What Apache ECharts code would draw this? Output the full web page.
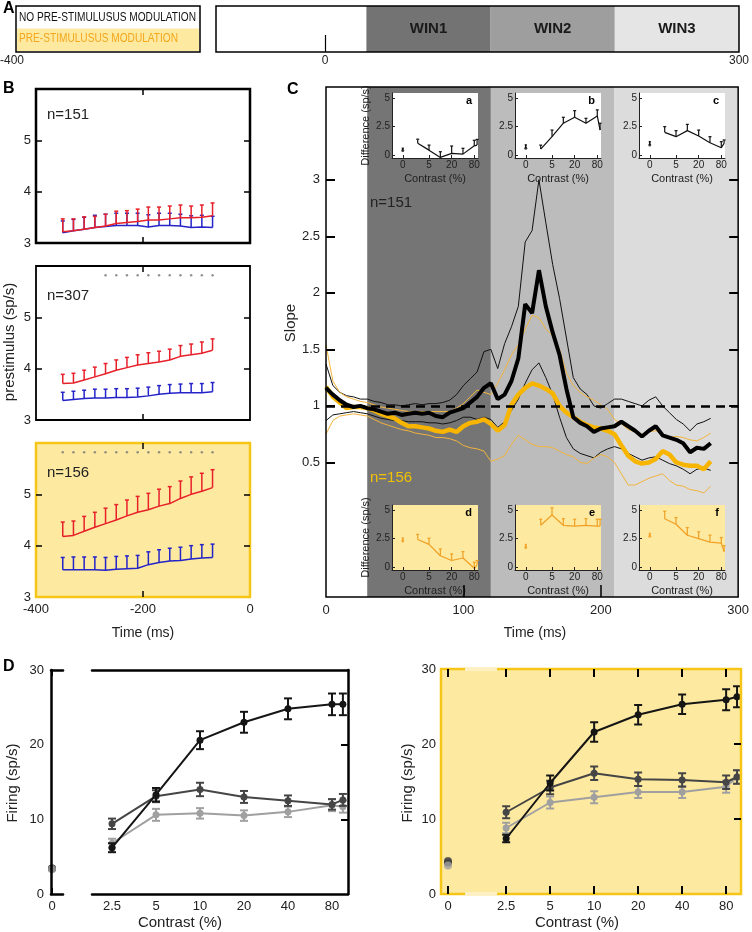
<!DOCTYPE html>
<html>
<head>
<meta charset="utf-8">
<script src="https://cdn.jsdelivr.net/npm/echarts@6/dist/echarts.min.js"></script>
<style>
html, body { margin: 0; padding: 0; background: #fff; }
#chart { width: 752px; height: 932px; }
</style>
</head>
<body>
<div id="chart"></div>
<script>
// ---------- data ----------
const windows = [30, 120, 210, 300];
const winNames = ['WIN1', 'WIN2', 'WIN3'];

// panel B: prestimulus activity
const bTime = [-350, -330, -310, -290, -270, -250, -230, -210, -190, -170, -150, -130, -110, -90, -70];
const b151Red = [3.22, 3.24, 3.27, 3.30, 3.33, 3.38, 3.40, 3.42, 3.45, 3.45, 3.47, 3.49, 3.49, 3.50, 3.53];
const b151RedErr = [0.25, 0.23, 0.24, 0.22, 0.23, 0.24, 0.23, 0.24, 0.25, 0.25, 0.25, 0.25, 0.23, 0.24, 0.25];
const b151Blue = [3.20, 3.24, 3.27, 3.30, 3.32, 3.34, 3.34, 3.34, 3.31, 3.34, 3.34, 3.33, 3.30, 3.31, 3.30];
const b151BlueErr = [0.23, 0.22, 0.23, 0.24, 0.24, 0.24, 0.24, 0.24, 0.24, 0.24, 0.24, 0.23, 0.23, 0.23, 0.22];
const b307Red = [3.71, 3.72, 3.78, 3.84, 3.90, 3.97, 4.02, 4.07, 4.10, 4.13, 4.17, 4.24, 4.27, 4.30, 4.36];
const b307RedErr = [0.18, 0.19, 0.19, 0.19, 0.20, 0.20, 0.20, 0.20, 0.21, 0.21, 0.21, 0.21, 0.21, 0.22, 0.22];
const b307Blue = [3.38, 3.40, 3.42, 3.43, 3.43, 3.44, 3.44, 3.45, 3.47, 3.50, 3.52, 3.53, 3.53, 3.53, 3.55];
const b307BlueErr = [0.16, 0.16, 0.16, 0.17, 0.17, 0.17, 0.17, 0.17, 0.17, 0.17, 0.17, 0.17, 0.18, 0.18, 0.18];
const b156Red = [4.18, 4.20, 4.28, 4.36, 4.43, 4.50, 4.58, 4.65, 4.70, 4.77, 4.82, 4.92, 5.00, 5.06, 5.13];
const b156RedErr = [0.28, 0.28, 0.29, 0.29, 0.30, 0.30, 0.31, 0.31, 0.32, 0.33, 0.33, 0.34, 0.34, 0.35, 0.35];
const b156Blue = [3.53, 3.53, 3.53, 3.53, 3.52, 3.54, 3.55, 3.56, 3.63, 3.67, 3.70, 3.71, 3.74, 3.76, 3.77];
const b156BlueErr = [0.24, 0.25, 0.25, 0.25, 0.25, 0.25, 0.25, 0.25, 0.25, 0.25, 0.25, 0.26, 0.26, 0.26, 0.26];
const b307Sig = [-270, -250, -230, -210, -190, -170, -150, -130, -110, -90, -70];
const b156Sig = bTime;
const sigLevel = 5.82;

// panel C: slope over time
const cTime = [0, 5, 10, 15, 20, 25, 30, 35, 40, 45, 50, 55, 60, 65, 70, 75, 80, 85, 90, 95,
  100, 105, 110, 115, 120, 125, 130, 135, 140, 145, 150, 155, 160, 165, 170, 175, 180, 185, 190, 195,
  200, 205, 210, 215, 220, 225, 230, 235, 240, 245, 250, 255, 260, 265, 270, 275, 280];
const blackMean = [1.16, 1.10, 1.05, 1.01, 0.99, 1.00, 0.98, 0.97, 0.95, 0.93, 0.94, 0.92, 0.93, 0.94, 0.93, 0.94, 0.91, 0.90, 0.94, 0.96,
  0.98, 1.03, 1.08, 1.16, 1.20, 1.06, 1.10, 1.22, 1.42, 1.90, 1.82, 2.20, 1.88, 1.65, 1.45, 1.15, 0.90, 0.85, 0.82, 0.77,
  0.80, 0.81, 0.82, 0.86, 0.82, 0.78, 0.73, 0.78, 0.82, 0.74, 0.72, 0.70, 0.67, 0.59, 0.63, 0.62, 0.67];
const blackUp = [1.37, 1.18, 1.12, 1.09, 1.08, 1.06, 1.06, 1.04, 1.03, 1.01, 1.01, 1.00, 1.01, 1.02, 1.01, 1.02, 1.02, 1.03, 1.05, 1.10,
  1.18, 1.24, 1.30, 1.48, 1.50, 1.33, 1.55, 1.70, 1.88, 2.45, 2.55, 3.00, 2.62, 2.25, 1.95, 1.60, 1.25, 1.15, 1.10, 1.00,
  0.98, 1.02, 1.06, 1.06, 1.04, 1.02, 1.00, 1.05, 1.08, 1.00, 0.94, 0.88, 0.84, 0.78, 0.84, 0.86, 0.89];
const blackLow = [0.87, 0.92, 0.93, 0.94, 0.95, 0.94, 0.93, 0.91, 0.89, 0.88, 0.87, 0.87, 0.86, 0.86, 0.86, 0.85, 0.85, 0.84, 0.85, 0.87,
  0.90, 0.90, 0.88, 0.90, 0.88, 0.81, 0.86, 0.96, 1.06, 1.20, 1.32, 1.38, 1.25, 1.10, 0.90, 0.72, 0.62, 0.58, 0.56, 0.54,
  0.59, 0.62, 0.64, 0.62, 0.58, 0.55, 0.52, 0.54, 0.55, 0.52, 0.49, 0.47, 0.44, 0.40, 0.44, 0.45, 0.43];
const orangeMean = [1.17, 1.08, 1.03, 0.98, 0.99, 0.99, 0.98, 0.96, 0.93, 0.91, 0.89, 0.85, 0.82, 0.82, 0.81, 0.80, 0.78, 0.77, 0.79, 0.77,
  0.82, 0.85, 0.86, 0.88, 0.84, 0.78, 0.83, 1.01, 1.10, 1.16, 1.20, 1.18, 1.15, 1.11, 1.00, 0.94, 0.90, 0.86, 0.83, 0.81,
  0.80, 0.78, 0.75, 0.65, 0.56, 0.51, 0.49, 0.50, 0.53, 0.60, 0.57, 0.50, 0.48, 0.47, 0.47, 0.44, 0.51];
const orangeUp = [1.54, 1.22, 1.12, 1.08, 1.06, 1.04, 1.03, 1.01, 0.99, 0.98, 0.97, 0.96, 0.95, 0.95, 0.95, 0.95, 0.95, 0.95, 0.95, 0.98,
  1.02, 1.08, 1.14, 1.12, 1.10, 1.20, 1.32, 1.45, 1.54, 1.68, 1.80, 1.78, 1.68, 1.62, 1.50, 1.29, 1.18, 1.12, 1.08, 1.05,
  1.01, 0.97, 0.88, 0.84, 0.79, 0.77, 0.75, 0.77, 0.78, 0.75, 0.72, 0.73, 0.72, 0.70, 0.69, 0.72, 0.76];
const orangeLow = [0.75, 0.87, 0.91, 0.92, 0.93, 0.92, 0.91, 0.88, 0.85, 0.83, 0.81, 0.79, 0.78, 0.76, 0.75, 0.74, 0.72, 0.72, 0.71, 0.69,
  0.65, 0.63, 0.62, 0.60, 0.51, 0.53, 0.56, 0.66, 0.74, 0.70, 0.66, 0.64, 0.64, 0.63, 0.60, 0.57, 0.55, 0.50, 0.49, 0.54,
  0.57, 0.55, 0.50, 0.40, 0.30, 0.30, 0.33, 0.36, 0.38, 0.40, 0.34, 0.30, 0.29, 0.26, 0.25, 0.23, 0.29];

// contrast levels (0 % is drawn where contrast 1 would sit on the log axis)
const contrasts = [2.5, 5, 10, 20, 40, 80, 95];
const contrastTicks = [2.5, 5, 10, 20, 40, 80];
const insetTicks = [1, 5, 20, 80];
const ZERO_AT = 1;

// insets a-f: difference (sp/s), upper error
const insetAVals = [1.05, 0.44, -0.2, 0.15, 0.09, 0.82, 0.88];
const insetAErr = [0.35, 0.44, 0.5, 0.65, 0.51, 0.48, 0.5];
const insetAZero = [0.4, 0.2];
const insetBVals = [0.53, 1.62, 2.8, 3.32, 2.8, 3.44, 2.2];
const insetBErr = [0.35, 0.58, 0.52, 0.58, 0.43, 0.53, 0.6];
const insetBZero = [0.6, 0.3];
const insetCVals = [2.0, 1.62, 2.15, 1.68, 1.09, 0.65, 1.03];
const insetCErr = [0.5, 0.53, 0.55, 0.52, 0.53, 0.53, 0.3];
const insetCZero = [0.88, 0.3];
const insetDVals = [2.43, 2.0, 1.0, 0.58, 0.8, -0.1, 0.2];
const insetDErr = [0.44, 0.54, 0.6, 0.58, 0.56, 0.53, 0.38];
const insetDZero = [2.3, 0.25];
const insetEVals = [3.67, 4.57, 3.67, 3.6, 3.67, 3.6, 3.6];
const insetEErr = [0.53, 0.63, 0.58, 0.6, 0.58, 0.6, 0.6];
const insetEZero = [1.73, 0.25];
const insetFVals = [4.25, 3.76, 2.8, 2.5, 2.2, 2.1, 1.36];
const insetFErr = [0.65, 0.58, 0.67, 0.6, 0.6, 0.5, 0.52];
const insetFZero = [2.7, 0.25];

// panel D: firing rate vs contrast (win1 black, win2 dark grey, win3 light grey)
const dLeftWin1 = [6.2, 13.3, 20.6, 23.0, 24.8, 25.4, 25.4];
const dLeftWin1Err = [0.6, 0.9, 1.2, 1.4, 1.4, 1.45, 1.45];
const dLeftWin2 = [9.4, 13.1, 14.0, 13.0, 12.5, 12.0, 12.6];
const dLeftWin2Err = [0.7, 0.8, 0.9, 0.8, 0.7, 0.7, 0.8];
const dLeftWin3 = [6.8, 10.6, 10.8, 10.5, 11.0, 11.9, 11.7];
const dLeftWin3Err = [0.6, 0.8, 0.7, 0.7, 0.7, 0.8, 0.8];
const dLeftZero = [3.4, 3.4, 3.3];
const dRightWin1 = [7.4, 14.8, 21.6, 23.9, 25.3, 25.9, 26.3];
const dRightWin1Err = [0.5, 1.0, 1.3, 1.3, 1.3, 1.4, 1.4];
const dRightWin2 = [10.9, 14.2, 16.1, 15.3, 15.2, 14.9, 15.6];
const dRightWin2Err = [0.8, 0.9, 0.9, 0.9, 0.9, 0.9, 0.9];
const dRightWin3 = [8.8, 12.2, 12.9, 13.6, 13.6, 14.3, 15.6];
const dRightWin3Err = [0.7, 0.8, 0.8, 0.8, 0.8, 0.8, 0.9];
const dRightZero = [4.2, 4.4, 3.8];

// ---------- styles ----------
const FONT = 'Liberation Sans';
const YELLOW = '#fde9a0';
const GOLD = '#f5c518';
const ORANGE = '#f7b500';
const ORANGE_THIN = '#f2b43c';
const ORANGE_INSET = '#f0a024';
const RED = '#e8202a';
const BLUE = '#2424c8';
const WIN_COLORS_A = ['#737373', '#9e9e9e', '#e5e5e5'];
const WIN_COLORS_C = ['#757575', '#bcbcbc', '#dcdcdc'];
const D_COLORS = ['#151515', '#454545', '#a0a0a0'];

const log2 = Math.log2;
function fmtContrast(v) {
    if (Math.abs(v - log2(ZERO_AT)) < 1e-6) return '0';
    return String(Math.round(Math.pow(2, v) * 10) / 10);
}

// ---------- helpers ----------
const grids = [], xAxes = [], yAxes = [], series = [];

function addGrid(g) {
    grids.push(Object.assign({ show: true, backgroundColor: 'transparent', borderWidth: 0, z: 50 }, g));
    return grids.length - 1;
}
function axis(g, min, max, extra) {
    return Object.assign({
        gridIndex: g, type: 'value', min: min, max: max, z: 50,
        splitLine: { show: false }, axisLine: { show: false, onZero: false },
        axisTick: { show: false }, axisLabel: { show: false }
    }, extra || {});
}
function ticks(vals, len, w, color) {
    return { show: true, inside: true, length: len, customValues: vals,
        lineStyle: { color: color || '#000', width: w || 1.5 } };
}
function labels(vals, size, margin, fmt) {
    const l = { show: true, customValues: vals, fontSize: size, margin: margin,
        color: '#222', fontFamily: FONT };
    if (fmt) l.formatter = fmt;
    return l;
}
function areaSeries(xi, yi, areas, z) {
    return { type: 'line', xAxisIndex: xi, yAxisIndex: yi, data: [], silent: true, z: z,
        markArea: { silent: true, data: areas } };
}
function lineSeries(xi, yi, xs, ys, color, width, z, symbolSize) {
    return {
        type: 'line', xAxisIndex: xi, yAxisIndex: yi, silent: true, z: z,
        data: xs.map((x, i) => [x, ys[i]]),
        showSymbol: !!symbolSize, symbol: 'circle', symbolSize: symbolSize || 0,
        itemStyle: { color: color }, lineStyle: { color: color, width: width },
        animation: false
    };
}
function errSeries(xi, yi, xs, ys, es, color, capW, both, lw, z) {
    return {
        type: 'custom', xAxisIndex: xi, yAxisIndex: yi, z: z, silent: true,
        encode: { x: 0, y: 1 },
        data: xs.map((x, i) => [x, ys[i], es[i]]),
        renderItem: function (params, api) {
            const x = api.value(0), y = api.value(1), e = api.value(2);
            const top = api.coord([x, y + e]);
            const bot = api.coord([x, both ? y - e : y]);
            const st = { stroke: color, lineWidth: lw, fill: null };
            const kids = [
                { type: 'line', shape: { x1: top[0], y1: top[1], x2: bot[0], y2: bot[1] }, style: st },
                { type: 'line', shape: { x1: top[0] - capW, y1: top[1], x2: top[0] + capW, y2: top[1] }, style: st }
            ];
            if (both) kids.push({ type: 'line', shape: { x1: bot[0] - capW, y1: bot[1], x2: bot[0] + capW, y2: bot[1] }, style: st });
            return { type: 'group', children: kids };
        }
    };
}

// ---------- panel A ----------
let g = addGrid({ left: 216, top: 6, width: 526, height: 46, borderColor: '#000', borderWidth: 1.5 });
xAxes[g] = axis(g, -79, 300, { axisTick: ticks([0], 17, 1.2), axisLabel: labels([0, 300], 12, 3) });
yAxes[g] = axis(g, 0, 1);
series.push(areaSeries(g, g, winNames.map((n, i) => [
    { xAxis: windows[i], name: n, itemStyle: { color: WIN_COLORS_A[i] },
      label: { show: true, position: 'inside', color: '#1a1a1a', fontSize: 15, fontWeight: 'bold', fontFamily: FONT } },
    { xAxis: windows[i + 1] }
]), 1));

// ---------- panel B ----------
const bPanels = [
    { top: 89, red: b151Red, redErr: b151RedErr, blue: b151Blue, blueErr: b151BlueErr, sig: [], yellow: false, bw: 2.5 },
    { top: 266, red: b307Red, redErr: b307RedErr, blue: b307Blue, blueErr: b307BlueErr, sig: b307Sig, yellow: false, bw: 1.8 },
    { top: 443, red: b156Red, redErr: b156RedErr, blue: b156Blue, blueErr: b156BlueErr, sig: b156Sig, yellow: true, bw: 2.5 }
];
const bTop = [], bRight = [];
bPanels.forEach(function (p, k) {
    const gi = addGrid({ left: 36, top: p.top, width: 214, height: 154,
        borderColor: p.yellow ? GOLD : '#000', borderWidth: p.bw });
    xAxes[gi] = axis(gi, -400, 0, {
        axisTick: ticks([-200], 6, 1.5),
        axisLabel: k === 2 ? labels([-400, -200, 0], 13, 6) : { show: false }
    });
    yAxes[gi] = axis(gi, 3, 6, { axisTick: ticks([4, 5], 6, 1.5), axisLabel: labels([3, 4, 5], 13, 5) });
    bTop.push(axis(gi, -400, 0, { position: 'top', axisTick: ticks([-200], 6, 1.5) }));
    bRight.push(axis(gi, 3, 6, { position: 'right', axisTick: ticks([4, 5], 6, 1.5) }));
    p.g = gi;
});

// ---------- panel C ----------
const gC = addGrid({ left: 326, top: 87, width: 417, height: 510, borderColor: '#000', borderWidth: 1.5 });
const slopeTicks = [0.5, 1, 1.5, 2, 2.5, 3];
xAxes[gC] = axis(gC, 0, 300, { axisTick: ticks([100, 200], 12, 1.5), axisLabel: labels([0, 100, 200, 300], 13, 7) });
yAxes[gC] = axis(gC, -0.69, 3.82, { axisTick: ticks(slopeTicks, 9, 2), axisLabel: labels(slopeTicks, 13, 6) });
const cRight = axis(gC, -0.69, 3.82, { position: 'right', axisTick: ticks(slopeTicks, 9, 2) });

// ---------- insets ----------
const insets = [
    { left: 392, top: 93, vals: insetAVals, err: insetAErr, zero: insetAZero, letter: 'a', orange: false, yname: true },
    { left: 515, top: 93, vals: insetBVals, err: insetBErr, zero: insetBZero, letter: 'b', orange: false, yname: false },
    { left: 639, top: 93, vals: insetCVals, err: insetCErr, zero: insetCZero, letter: 'c', orange: false, yname: false },
    { left: 392, top: 505, vals: insetDVals, err: insetDErr, zero: insetDZero, letter: 'd', orange: true, yname: true },
    { left: 515, top: 505, vals: insetEVals, err: insetEErr, zero: insetEZero, letter: 'e', orange: true, yname: false },
    { left: 639, top: 505, vals: insetFVals, err: insetFErr, zero: insetFZero, letter: 'f', orange: true, yname: false }
];
insets.forEach(function (p) {
    const gi = addGrid({ left: p.left, top: p.top, width: 86, height: 65 });
    const line = { show: true, onZero: false, lineStyle: { color: '#222', width: 1 } };
    xAxes[gi] = axis(gi, -0.95, 6.65, {
        axisLine: line, axisTick: ticks(insetTicks.map(log2), 3, 1, '#222'),
        axisLabel: labels(insetTicks.map(log2), 10, 2, fmtContrast),
        name: 'Contrast (%)', nameLocation: 'middle', nameGap: 15,
        nameTextStyle: { fontSize: 11, color: '#222', fontFamily: FONT }
    });
    yAxes[gi] = axis(gi, -0.25, 5.45, Object.assign({
        axisLine: line, axisTick: ticks([0, 2.5, 5], 3, 1, '#222'),
        axisLabel: labels([0, 2.5, 5], 10, 2)
    }, p.yname ? { name: 'Difference (sp/s)', nameLocation: 'middle', nameGap: 21,
        nameTextStyle: { fontSize: 11, color: '#222', fontFamily: FONT } } : {}));
    p.g = gi;
});

// ---------- panel D ----------
const thick = { show: true, onZero: false, lineStyle: { color: '#000', width: 2.5 } };
const gD0 = addGrid({ left: 51, top: 670, width: 12, height: 224 });
xAxes[gD0] = axis(gD0, -0.1, 1.1, { axisLine: thick, axisTick: ticks([0], 6, 2), axisLabel: labels([0], 13, 6) });
yAxes[gD0] = axis(gD0, 0, 30, { axisLine: thick, axisLabel: labels([0, 10, 20, 30], 13, 7) });
const dL0Top = axis(gD0, -0.1, 1.1, { position: 'top', axisLine: thick, axisTick: ticks([0], 6, 2) });

const gD1 = addGrid({ left: 92, top: 670, width: 256, height: 224 });
xAxes[gD1] = axis(gD1, 0.867, 6.686, { axisLine: thick, axisLabel: labels(contrastTicks.map(log2), 13, 6, fmtContrast) });
yAxes[gD1] = axis(gD1, 0, 30, { position: 'right', axisLine: thick, axisTick: ticks([10, 20], 7, 2) });
const dL1Top = axis(gD1, 0.867, 6.686, { position: 'top', axisLine: thick });

const gD2 = addGrid({ left: 441, top: 669, width: 300, height: 225, borderColor: GOLD, borderWidth: 2.5 });
const dRTicks = [ZERO_AT].concat(contrastTicks).map(log2);
xAxes[gD2] = axis(gD2, -0.159, 6.66, { axisTick: ticks(dRTicks, 8, 2), axisLabel: labels(dRTicks, 13, 6, fmtContrast) });
yAxes[gD2] = axis(gD2, 0, 30, { axisLabel: labels([0, 10, 20, 30], 13, 5) });
const dRTop = axis(gD2, -0.159, 6.66, { position: 'top', axisTick: ticks(dRTicks, 8, 2) });
const dRRight = axis(gD2, 0, 30, { position: 'right', axisTick: ticks([10, 20], 7, 2) });

// extra axes
function pushX(a) { xAxes.push(a); return xAxes.length - 1; }
function pushY(a) { yAxes.push(a); return yAxes.length - 1; }
bTop.forEach(pushX); bRight.forEach(pushY);
pushY(cRight); pushX(dL0Top); pushX(dL1Top); pushX(dRTop); pushY(dRRight);

// ---------- series: B ----------
bPanels.forEach(function (p) {
    if (p.yellow) series.push(areaSeries(p.g, p.g, [[{ xAxis: -400, itemStyle: { color: YELLOW } }, { xAxis: 0 }]], 1));
    series.push(errSeries(p.g, p.g, bTime, p.blue, p.blueErr, BLUE, 2, false, 1.5, 3));
    series.push(lineSeries(p.g, p.g, bTime, p.blue, BLUE, 1.5, 3));
    series.push(errSeries(p.g, p.g, bTime, p.red, p.redErr, RED, 2, false, 1.5, 4));
    series.push(lineSeries(p.g, p.g, bTime, p.red, RED, 1.5, 4));
    if (p.sig.length) {
        series.push({ type: 'scatter', xAxisIndex: p.g, yAxisIndex: p.g, silent: true, z: 4,
            symbolSize: 2.5, itemStyle: { color: '#777' }, data: p.sig.map(t => [t, sigLevel]) });
    }
});

// ---------- series: C ----------
series.push(areaSeries(gC, gC, winNames.map((n, i) => [
    { xAxis: windows[i], itemStyle: { color: WIN_COLORS_C[i] } }, { xAxis: windows[i + 1] }
]), 1));
series.push({ type: 'line', xAxisIndex: gC, yAxisIndex: gC, data: [], silent: true, z: 2,
    markLine: { silent: true, symbol: 'none', label: { show: false },
        lineStyle: { color: '#000', width: 2.5, type: [9, 6] }, data: [{ yAxis: 1 }] } });
series.push(lineSeries(gC, gC, cTime, blackUp, '#111', 1, 3));
series.push(lineSeries(gC, gC, cTime, blackLow, '#111', 1, 3));
series.push(lineSeries(gC, gC, cTime, orangeUp, ORANGE_THIN, 1, 3));
series.push(lineSeries(gC, gC, cTime, orangeLow, ORANGE_THIN, 1, 3));
series.push(lineSeries(gC, gC, cTime, orangeMean, ORANGE, 4.5, 3));
series.push(lineSeries(gC, gC, cTime, blackMean, '#000', 4, 3));

// ---------- series: insets ----------
insets.forEach(function (p) {
    const col = p.orange ? ORANGE_INSET : '#111';
    series.push(areaSeries(p.g, p.g, [[{ xAxis: -0.95, itemStyle: { color: p.orange ? YELLOW : '#fff' } }, { xAxis: 6.65 }]], 4));
    const xs = contrasts.map(log2);
    series.push(errSeries(p.g, p.g, xs, p.vals, p.err, col, 1.5, false, 1.2, 5));
    series.push(lineSeries(p.g, p.g, xs, p.vals, col, 1.2, 5));
    series.push(errSeries(p.g, p.g, [log2(ZERO_AT)], [p.zero[0]], [p.zero[1]], col, 1, false, 1.5, 5));
    series.push({ type: 'scatter', xAxisIndex: p.g, yAxisIndex: p.g, silent: true, z: 5,
        symbolSize: 3, itemStyle: { color: col }, data: [[log2(ZERO_AT), p.zero[0]]] });
});

// ---------- series: D ----------
function dSeries(gi, sets, zeroGrid, zeroX, zeros) {
    const xs = contrasts.map(log2);
    sets.forEach(function (s, k) {
        const col = D_COLORS[k];
        series.push(lineSeries(gi, gi, xs, s[0], col, 2, 6 + (2 - k), 7));
        series.push(errSeries(gi, gi, xs, s[0], s[1], col, 4, true, 2, 6 + (2 - k)));
        series.push({ type: 'scatter', xAxisIndex: zeroGrid, yAxisIndex: zeroGrid, silent: true, clip: false,
            z: 6 + k, symbolSize: 8, itemStyle: { color: col }, data: [[zeroX, zeros[k]]] });
    });
}
dSeries(gD1, [[dLeftWin1, dLeftWin1Err], [dLeftWin2, dLeftWin2Err], [dLeftWin3, dLeftWin3Err]], gD0, 0, dLeftZero);
series.push(areaSeries(gD2, gD2, [[{ xAxis: -0.159, itemStyle: { color: YELLOW } }, { xAxis: 6.66 }]], 1));
dSeries(gD2, [[dRightWin1, dRightWin1Err], [dRightWin2, dRightWin2Err], [dRightWin3, dRightWin3Err]], gD2, log2(ZERO_AT), dRightZero);

// ---------- texts ----------
function txt(x, y, s, size, opts) {
    opts = opts || {};
    return {
        type: 'text', x: x, y: y, rotation: opts.rot || 0, scaleX: opts.sx || 1, z: 100, silent: true,
        style: {
            text: s, fill: opts.color || '#222',
            font: (opts.bold ? 'bold ' : '') + size + 'px "' + FONT + '"',
            textAlign: opts.align || 'left', textVerticalAlign: 'middle',
            align: opts.align || 'left', verticalAlign: 'middle'
        }
    };
}
const graphics = [
    { type: 'rect', z: 90, silent: true, shape: { x: 16, y: 6, width: 184, height: 46 }, style: { fill: '#fff', stroke: '#000', lineWidth: 1.5 } },
    { type: 'rect', z: 91, silent: true, shape: { x: 17, y: 28.5, width: 182, height: 22.5 }, style: { fill: YELLOW } },
    txt(19, 18, 'NO PRE-STIMULUSUS MODULATION', 12.5, { color: '#111', sx: 0.81 }),
    txt(19, 39, 'PRE-STIMULUSUS MODULATION', 12.5, { color: '#f4a61c', sx: 0.81 }),
    txt(12, 61, '-400', 12, { align: 'center' }),
    txt(3, 9, 'A', 16, { bold: true, color: '#000' }),
    txt(3, 89, 'B', 16, { bold: true, color: '#000' }),
    txt(287, 90, 'C', 16, { bold: true, color: '#000' }),
    txt(3, 667, 'D', 16, { bold: true, color: '#000' }),
    txt(47, 115, 'n=151', 15),
    txt(47, 296, 'n=307', 15),
    txt(47, 473, 'n=156', 15),
    txt(10, 342, 'prestimulus (sp/s)', 15, { rot: Math.PI / 2, align: 'center' }),
    txt(143, 633, 'Time (ms)', 14, { align: 'center' }),
    txt(370, 203, 'n=151', 15),
    txt(370, 478, 'n=156', 15, { color: '#f2c200' }),
    txt(291, 323, 'Slope', 15, { rot: Math.PI / 2, align: 'center' }),
    txt(535, 633, 'Time (ms)', 14, { align: 'center' }),
    txt(13, 783, 'Firing (sp/s)', 15, { rot: Math.PI / 2, align: 'center' }),
    txt(180, 923, 'Contrast (%)', 15, { align: 'center' }),
    txt(408, 783, 'Firing (sp/s)', 15, { rot: Math.PI / 2, align: 'center' }),
    txt(577, 923, 'Contrast (%)', 15, { align: 'center' }),
    { type: 'rect', z: 95, silent: true, shape: { x: 465, y: 667, width: 32, height: 4 }, style: { fill: '#fdf0c4' } },
    { type: 'rect', z: 95, silent: true, shape: { x: 465, y: 892, width: 32, height: 4 }, style: { fill: '#fdf0c4' } }
];
insets.forEach(function (p) {
    graphics.push(txt(p.left + 80, p.top + 8, p.letter, 11, { bold: true, color: '#000', align: 'right' }));
});

const chart = echarts.init(document.getElementById('chart'));
chart.setOption({
    animation: false,
    textStyle: { fontFamily: FONT },
    grid: grids,
    xAxis: xAxes,
    yAxis: yAxes,
    series: series,
    graphic: graphics
});
</script>
</body>
</html>
